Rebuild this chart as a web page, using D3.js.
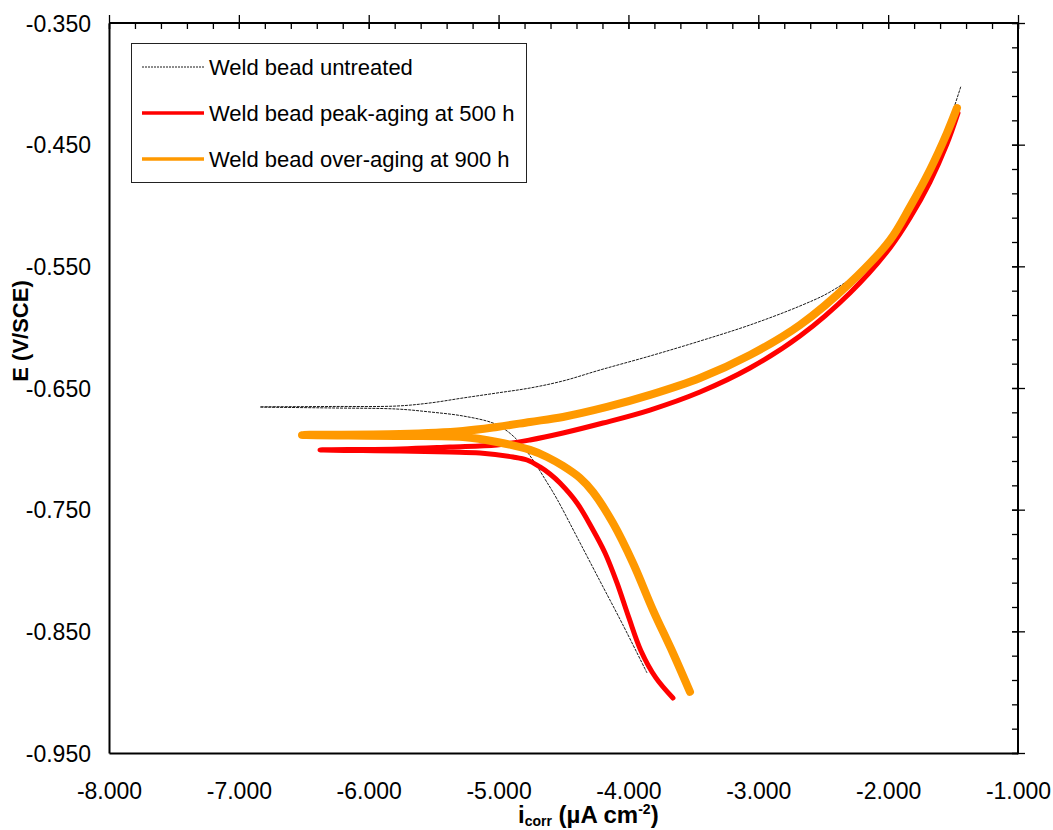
<!DOCTYPE html>
<html>
<head>
<meta charset="utf-8">
<script src="https://cdn.jsdelivr.net/npm/d3@7"></script>
<style>
  body { margin: 0; background: #fff; }
  svg text { font-family: "Liberation Sans", Arial, sans-serif; fill: #000; }
</style>
</head>
<body>
<div id="chart"></div>
<script>
// polarization curves, [log i, E]
// each one starts at the cathodic end, runs to the tip, then up the anodic branch
var untreated = [
  [-3.857, -0.8842], [-4.042, -0.8448], [-4.219, -0.8087], [-4.396, -0.7725],
  [-4.550, -0.7413], [-4.643, -0.7248], [-4.735, -0.7092], [-4.835, -0.6952],
  [-4.935, -0.6853], [-5.043, -0.6788], [-5.274, -0.6730], [-5.528, -0.6697],
  [-5.782, -0.6673], [-6.298, -0.6664], [-6.837, -0.6656],
  [-6.298, -0.6652], [-5.782, -0.6648], [-5.528, -0.6623], [-5.274, -0.6582],
  [-5.012, -0.6541], [-4.758, -0.6500], [-4.504, -0.6442], [-4.219, -0.6352],
  [-3.834, -0.6237], [-3.449, -0.6114], [-3.064, -0.5982], [-2.679, -0.5826],
  [-2.448, -0.5711], [-2.217, -0.5538], [-1.986, -0.5251], [-1.832, -0.4996],
  [-1.678, -0.4725], [-1.562, -0.4421], [-1.501, -0.4223], [-1.439, -0.4018]
];

var peakAging = [
  [-3.657, -0.9048], [-3.788, -0.8883], [-3.903, -0.8661], [-3.996, -0.8390],
  [-4.088, -0.8102], [-4.180, -0.7856], [-4.281, -0.7651], [-4.396, -0.7445],
  [-4.527, -0.7281], [-4.604, -0.7207], [-4.681, -0.7149], [-4.781, -0.7092],
  [-4.889, -0.7067], [-5.143, -0.7034], [-5.374, -0.7026],
  [-5.759, -0.7018], [-6.375, -0.7009],
  [-5.759, -0.7001], [-5.374, -0.6985], [-5.012, -0.6968], [-4.758, -0.6927],
  [-4.504, -0.6870], [-4.196, -0.6788], [-3.834, -0.6681], [-3.449, -0.6533],
  [-3.064, -0.6336], [-2.679, -0.6073], [-2.294, -0.5719], [-1.986, -0.5349],
  [-1.832, -0.5103], [-1.678, -0.4807], [-1.547, -0.4494], [-1.462, -0.4240]
];

var overAging = [
  [-3.526, -0.8998], [-3.657, -0.8678], [-3.811, -0.8325], [-3.965, -0.7938],
  [-4.119, -0.7610], [-4.273, -0.7355], [-4.373, -0.7240], [-4.504, -0.7141],
  [-4.627, -0.7067], [-4.758, -0.7009], [-5.012, -0.6944], [-5.274, -0.6903],
  [-5.759, -0.6894], [-6.514, -0.6886],
  [-5.759, -0.6878], [-5.274, -0.6853], [-5.012, -0.6820], [-4.758, -0.6779],
  [-4.504, -0.6738], [-4.165, -0.6656], [-3.834, -0.6557], [-3.449, -0.6418],
  [-3.064, -0.6229], [-2.679, -0.5982], [-2.294, -0.5637], [-1.986, -0.5284],
  [-1.832, -0.5012], [-1.678, -0.4708], [-1.547, -0.4404], [-1.470, -0.4199]
];

var seriesNames = ['Weld bead untreated', 'Weld bead peak-aging at 500 h', 'Weld bead over-aging at 900 h'];
var xTicks = [-8, -7, -6, -5, -4, -3, -2, -1];
var yTicks = [-0.35, -0.45, -0.55, -0.65, -0.75, -0.85, -0.95];

var width = 1053, height = 830;
var margin = { top: 23, right: 35, bottom: 77, left: 109 };
var w = width - margin.left - margin.right;
var h = height - margin.top - margin.bottom;

var svg = d3.select('#chart').append('svg')
    .attr('width', width)
    .attr('height', height);

var g = svg.append('g')
    .attr('transform', 'translate(' + margin.left + ',' + margin.top + ')');

var x = d3.scaleLinear().domain([-8, -1]).range([0, w]);
var y = d3.scaleLinear().domain([-0.35, -0.95]).range([0, h]);

// plain hyphen for the minus sign, like the original
var loc = d3.formatLocale({ decimal: '.', thousands: ',', grouping: [3], currency: ['', ''], minus: '-' });
var fmt = loc.format('.3f');

var xMinor = d3.range(-8, -0.99, 0.2);
var yMinor = d3.range(-0.35, -0.951, -0.02);

// curves first, frame on top
var line = d3.line()
    .x(d => x(d[0]))
    .y(d => y(d[1]))
    .curve(d3.curveCatmullRom.alpha(0.5));

g.append('path')
    .datum(untreated)
    .attr('d', line)
    .attr('fill', 'none')
    .attr('stroke', '#1a1a1a')
    .attr('stroke-width', 1)
    .attr('stroke-dasharray', '3,1');

g.append('path')
    .datum(peakAging)
    .attr('d', line)
    .attr('fill', 'none')
    .attr('stroke', '#ff0000')
    .attr('stroke-width', 5)
    .attr('stroke-linecap', 'round')
    .attr('stroke-linejoin', 'round');

g.append('path')
    .datum(overAging)
    .attr('d', line)
    .attr('fill', 'none')
    .attr('stroke', '#ff9900')
    .attr('stroke-width', 8)
    .attr('stroke-linecap', 'round')
    .attr('stroke-linejoin', 'round');

// bottom / left: labels only, no tick marks
var xAxis = g.append('g')
    .attr('transform', 'translate(0,' + h + ')')
    .call(d3.axisBottom(x).tickValues(xTicks).tickSize(0).tickPadding(30).tickFormat(fmt));

var yAxis = g.append('g')
    .call(d3.axisLeft(y).tickValues(yTicks).tickSize(0).tickPadding(18).tickFormat(fmt));

[xAxis, yAxis].forEach(a => {
    a.selectAll('text').style('font-size', '23px').attr('fill', '#000');
    a.select('.domain').attr('stroke', '#000').attr('stroke-width', 2);
});
xAxis.selectAll('text').attr('dy', 0).attr('y', 46);
yAxis.selectAll('text').attr('dy', '0.36em');

// top / right: minor ticks inside, major ticks crossing
var topMinor = g.append('g')
    .call(d3.axisTop(x).tickValues(xMinor).tickSize(-6).tickFormat(''));
var topMajor = g.append('g')
    .call(d3.axisTop(x).tickValues(xTicks).tickSize(8).tickFormat(''));
var topMajorIn = g.append('g')
    .call(d3.axisTop(x).tickValues(xTicks).tickSize(-6).tickFormat(''));

var rightMinor = g.append('g')
    .attr('transform', 'translate(' + w + ',0)')
    .call(d3.axisRight(y).tickValues(yMinor).tickSize(-6).tickFormat(''));
var rightMajor = g.append('g')
    .attr('transform', 'translate(' + w + ',0)')
    .call(d3.axisRight(y).tickValues(yTicks).tickSize(7).tickFormat(''));
var rightMajorIn = g.append('g')
    .attr('transform', 'translate(' + w + ',0)')
    .call(d3.axisRight(y).tickValues(yTicks).tickSize(-6).tickFormat(''));

[topMinor, topMajor, topMajorIn, rightMinor, rightMajor, rightMajorIn].forEach(a => {
    a.select('.domain').remove();
    a.selectAll('line').attr('stroke', '#000').attr('stroke-width', 1.3);
});

g.append('line')
    .attr('x1', 0).attr('x2', w).attr('y1', 0).attr('y2', 0)
    .attr('stroke', '#000').attr('stroke-width', 2);
g.append('line')
    .attr('x1', w).attr('x2', w).attr('y1', 0).attr('y2', h)
    .attr('stroke', '#000').attr('stroke-width', 2);

// axis titles
svg.append('text')
    .attr('transform', 'translate(28,331) rotate(-90)')
    .attr('text-anchor', 'middle')
    .style('font-size', '22px')
    .style('font-weight', 'bold')
    .text('E (V/SCE)');

var xt = svg.append('text')
    .attr('x', 518)
    .attr('y', 823)
    .style('font-size', '24px')
    .style('font-weight', 'bold');
xt.append('tspan').text('i');
xt.append('tspan').attr('dy', 3).style('font-size', '14px').text('corr');
xt.append('tspan').attr('dy', -3).text(' (µA cm');
xt.append('tspan').attr('dy', -9).style('font-size', '14px').text('-2');
xt.append('tspan').attr('dy', 9).text(')');

// legend
var legend = svg.append('g');
legend.append('rect')
    .attr('x', 131.5).attr('y', 43.5)
    .attr('width', 395).attr('height', 139)
    .attr('fill', '#fff')
    .attr('stroke', '#222')
    .attr('stroke-width', 1);

var legendStyle = [
    { color: '#1a1a1a', width: 1, dash: '2,1' },
    { color: '#ff0000', width: 3.5, dash: null },
    { color: '#ff9900', width: 3.5, dash: null }
];

var rows = legend.selectAll('g.row')
    .data(seriesNames)
    .enter()
    .append('g')
    .attr('class', 'row')
    .attr('transform', (d, i) => 'translate(0,' + (75 + i * 46) + ')');

rows.append('line')
    .attr('x1', 142).attr('x2', 204)
    .attr('y1', -8).attr('y2', -8)
    .attr('stroke', (d, i) => legendStyle[i].color)
    .attr('stroke-width', (d, i) => legendStyle[i].width)
    .attr('stroke-dasharray', (d, i) => legendStyle[i].dash);

rows.append('text')
    .attr('x', 209)
    .attr('y', 0)
    .style('font-size', '22px')
    .text(d => d);
</script>
</body>
</html>
